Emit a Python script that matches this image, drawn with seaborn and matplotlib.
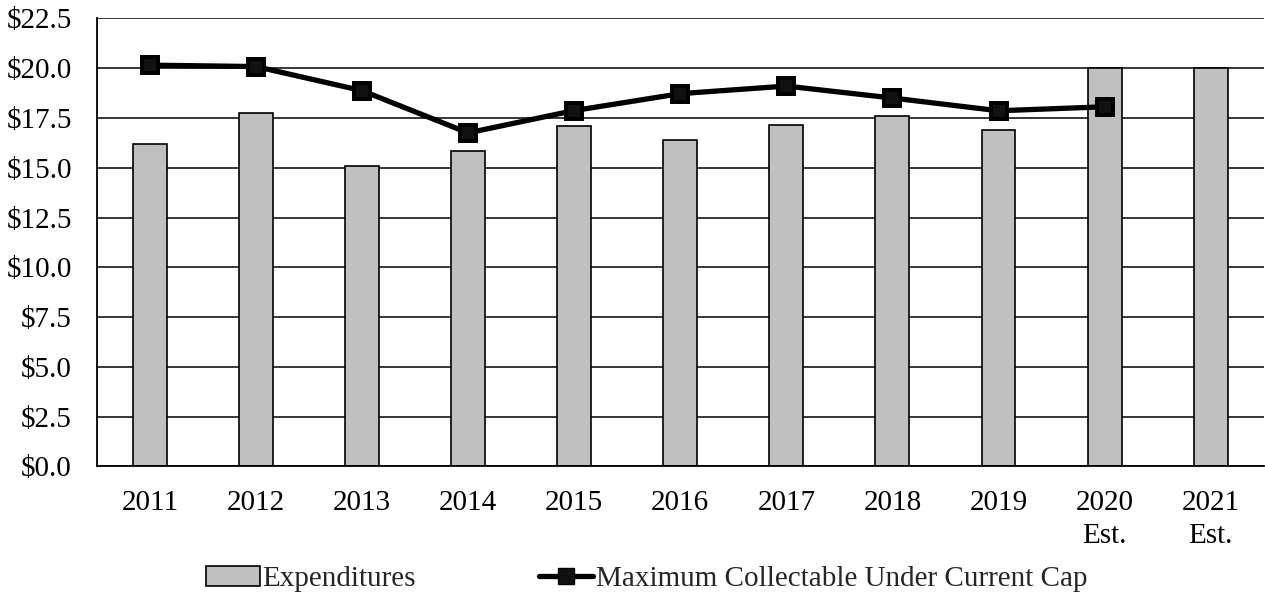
import matplotlib
matplotlib.use("Agg")
import matplotlib.pyplot as plt
from matplotlib.patches import Patch
from matplotlib.lines import Line2D
import numpy as np
import pandas as pd
import seaborn as sns

# Annual figures, in millions of dollars
years = ["2011", "2012", "2013", "2014", "2015", "2016", "2017", "2018", "2019",
         "2020\nEst.", "2021\nEst."]
expenditures = [16.2, 17.75, 15.1, 15.85, 17.08, 16.37, 17.16, 17.6, 16.87, 20.0, 20.0]
max_collectable = [20.15, 20.08, 18.87, 16.75, 17.87, 18.72, 19.1, 18.5, 17.86, 18.06, np.nan]
y_ticks = [0.0, 2.5, 5.0, 7.5, 10.0, 12.5, 15.0, 17.5, 20.0, 22.5]

df = pd.DataFrame({"year": years, "exp": expenditures, "cap": max_collectable})

FS = 21

sns.set_theme(style="white")
plt.rcParams["font.family"] = ["Liberation Serif", "DejaVu Serif"]
plt.rcParams["font.size"] = FS

fig = plt.figure(figsize=(12.65, 5.92), dpi=100)
ax = fig.add_axes([0.0765, 0.212, 0.9225, 0.757])

sns.barplot(data=df, x="year", y="exp", order=years, color="#C0C0C0",
            edgecolor="black", linewidth=1.2, width=0.32, saturation=1,
            ax=ax, zorder=2)
sns.pointplot(data=df, x="year", y="cap", order=years, color="black",
              markers="s", markersize=12, linewidth=3.8, errorbar=None,
              ax=ax, zorder=3)
for ln in ax.lines:
    ln.set_markerfacecolor("#111111")
    ln.set_markeredgecolor("black")
    ln.set_zorder(3)

ax.set_xlim(-0.5, len(years) - 0.5)
ax.set_ylim(0, 22.5)
ax.set_yticks(y_ticks)
ax.set_yticklabels([f"${v:.1f}" for v in y_ticks])
ax.set_xlabel("")
ax.set_ylabel("")
ax.yaxis.grid(True, color="black", linewidth=1.1)
ax.set_axisbelow(True)
for side in ("top", "right"):
    ax.spines[side].set_visible(False)
for side in ("left", "bottom"):
    ax.spines[side].set_color("black")
    ax.spines[side].set_linewidth(1.3)
ax.tick_params(axis="y", length=0, pad=18, labelsize=FS, colors="black")
ax.tick_params(axis="x", length=0, pad=17, labelsize=FS, colors="black")
for lbl in ax.get_xticklabels():
    lbl.set_linespacing(1.35)

handles = [
    Patch(facecolor="#C0C0C0", edgecolor="black", linewidth=1.2, label="Expenditures"),
    Line2D([0], [0], color="black", linewidth=3.8, marker="s", markersize=12,
           markerfacecolor="#111111", markeredgecolor="black",
           label="Maximum Collectable Under Current Cap"),
]
fig.legend(handles=handles, loc="center", bbox_to_anchor=(0.511, 0.022), ncol=2,
           frameon=False, fontsize=FS, handlelength=1.85, handletextpad=0.1,
           columnspacing=4.2, handleheight=0.7, borderpad=0, borderaxespad=0)

fig.savefig("out.png", dpi=100)
